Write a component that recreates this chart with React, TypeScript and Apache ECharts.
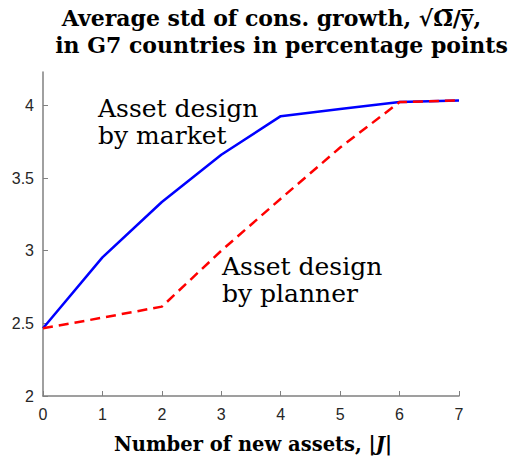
import React, { useEffect, useRef } from "react";
import * as echarts from "echarts";

const xValues = [0, 1, 2, 3, 4, 5, 6, 7];
const marketValues = [2.466, 2.954, 3.335, 3.66, 3.926, 3.975, 4.023, 4.034];
const plannerValues = [2.466, 2.539, 2.615, 3.0, 3.358, 3.71, 4.023, 4.034];
const yTicks = [2, 2.5, 3, 3.5, 4];
const xTicks = [0, 1, 2, 3, 4, 5, 6, 7];

const titleLine1 = "Average std of cons. growth, \u221A\u03A9\u0305/y\u0305,";
const titleLine2 = "in G7 countries in percentage points";
const marketLabel = ["Asset design", "by market"];
const plannerLabel = ["Asset design", "by planner"];

const SERIF = "'DejaVu Serif', serif";
const SANS = "'Liberation Sans', Arial, sans-serif";

export default function App() {
  const ref = useRef<HTMLDivElement>(null);
  useEffect(() => {
    if (!ref.current) return;
    const chart = echarts.init(ref.current, undefined, { renderer: "svg" });
    const axisColor = "#808080";
    const lineText = (t: string, x: number, y: number, size: number) => ({
      type: "text",
      x,
      y,
      style: { text: t, font: `${size}px ${SERIF}`, fill: "#000" },
    });
    chart.setOption({
      animation: false,
      backgroundColor: "#ffffff",
      grid: { left: 43, right: 62, top: 72, bottom: 66, containLabel: false },
      xAxis: {
        type: "value",
        min: 0,
        max: 7,
        interval: 1,
        axisLine: { show: true, lineStyle: { color: axisColor, width: 1.5 } },
        axisTick: { show: true, inside: true, length: 5, lineStyle: { color: axisColor }, customValues: xTicks },
        axisLabel: { color: "#262626", fontSize: 16, fontFamily: SANS, margin: 10, customValues: xTicks },
        splitLine: { show: false },
      },
      yAxis: {
        type: "value",
        min: 2,
        max: 4.23,
        axisLine: { show: true, lineStyle: { color: axisColor, width: 1.5 } },
        axisTick: { show: true, inside: true, length: 5, lineStyle: { color: axisColor }, customValues: yTicks },
        axisLabel: { color: "#262626", fontSize: 16, fontFamily: SANS, margin: 9, customValues: yTicks },
        splitLine: { show: false },
      },
      series: [
        {
          type: "line",
          data: xValues.map((x, i) => [x, marketValues[i]]),
          symbol: "none",
          lineStyle: { color: "#0000ff", width: 2.5 },
        },
        {
          type: "line",
          data: xValues.map((x, i) => [x, plannerValues[i]]),
          symbol: "none",
          lineStyle: { color: "#ff0000", width: 2.5, type: [10, 6] },
        },
      ],
      graphic: [
        {
          type: "text",
          x: 271.5,
          y: 4,
          style: {
            text: titleLine1,
            font: `bold 22px ${SERIF}`,
            fill: "#000",
            lineHeight: 28,
            textAlign: "center",
          },
        },
        {
          type: "text",
          x: 281.5,
          y: 31,
          style: {
            text: titleLine2,
            font: `bold 22px ${SERIF}`,
            fill: "#000",
            lineHeight: 28,
            textAlign: "center",
          },
        },
        lineText(marketLabel[0], 98, 96, 25),
        lineText(marketLabel[1], 98, 122.5, 25),
        lineText(plannerLabel[0], 222, 254, 25),
        lineText(plannerLabel[1], 222, 280.5, 25),
        {
          type: "text",
          x: 253,
          y: 434,
          style: {
            text: "Number of new assets, |{i|J}|",
            rich: { i: { font: `bold italic 19.5px ${SERIF}`, fill: "#000" } },
            font: `bold 19.5px ${SERIF}`,
            fill: "#000",
            textAlign: "center",
          },
        },
      ],
    });
    return () => chart.dispose();
  }, []);
  return <div ref={ref} style={{ width: 521, height: 462, marginLeft: -8, marginTop: -8 }} />;
}
